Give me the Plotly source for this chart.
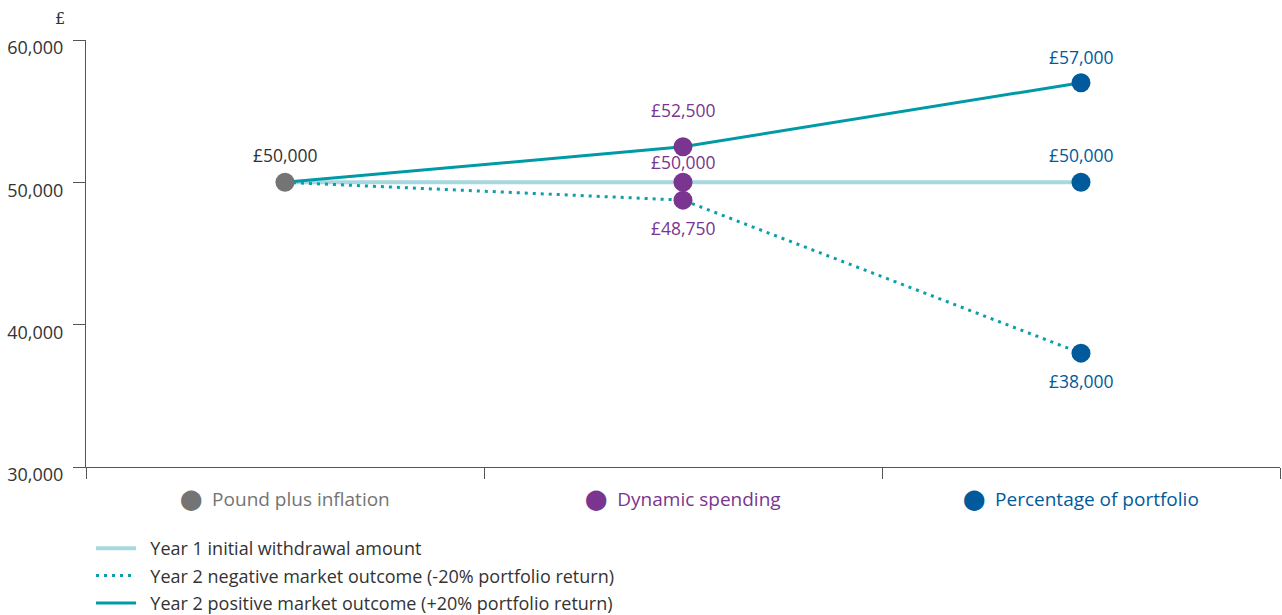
import plotly.graph_objects as go

# ---- data ----
categories = ["Pound plus inflation", "Dynamic spending", "Percentage of portfolio"]
year1_values = [50000, 50000, 50000]
negative_values = [50000, 48750, 38000]
positive_values = [50000, 52500, 57000]

point_categories = ["Pound plus inflation",
                    "Dynamic spending", "Dynamic spending", "Dynamic spending",
                    "Percentage of portfolio", "Percentage of portfolio", "Percentage of portfolio"]
point_values = [50000, 52500, 50000, 48750, 57000, 50000, 38000]
point_labels = ["£50,000", "£52,500", "£50,000", "£48,750", "£57,000", "£50,000", "£38,000"]

y_tickvals = [30000, 40000, 50000, 60000]
y_ticktext = ["30,000", "40,000", "50,000", "60,000"]

series_names = ["Year 1 initial withdrawal amount",
                "Year 2 negative market outcome (-20% portfolio return)",
                "Year 2 positive market outcome (+20% portfolio return)"]

# ---- styles ----
cat_colors = {"Pound plus inflation": "#747474",
              "Dynamic spending": "#7a3590",
              "Percentage of portfolio": "#005a9c"}
label_colors = {"Pound plus inflation": "#333333",
                "Dynamic spending": "#7a3590",
                "Percentage of portfolio": "#005a9c"}
label_shifts = [27, 37, 20, -28, 26, 27, -28]
FONT = "Open Sans, Roboto, sans-serif"
NBSP = "\u00a0\u00a0"

fig = go.Figure()

line_styles = [dict(color="#a6d8df", width=4),
               dict(color="#0a9fa9", width=3, dash="3px,5px"),
               dict(color="#009aa6", width=3)]
for i, (vals, name) in enumerate(zip([year1_values, negative_values, positive_values], series_names)):
    fig.add_trace(go.Scatter(x=categories, y=vals, mode="lines", name=NBSP + name,
                             legendgroup=f"g{i}", line=line_styles[i], hoverinfo="skip"))

fig.add_trace(go.Scatter(x=point_categories, y=point_values, mode="markers", showlegend=False,
                         marker=dict(size=19, color=[cat_colors[c] for c in point_categories],
                                     line=dict(width=0)),
                         cliponaxis=False, hoverinfo="skip"))

for c, v, t, s in zip(point_categories, point_values, point_labels, label_shifts):
    fig.add_annotation(x=c, y=v, text=t, showarrow=False, yshift=s,
                       font=dict(family=FONT, size=17.5, color=label_colors[c]))

fig.add_annotation(xref="paper", yref="paper", x=0, y=1.0, xshift=-19, yshift=33, text="£",
                   showarrow=False, xanchor="right",
                   font=dict(family="DejaVu Serif, serif", size=16, color="#333333"))

ticktext = [f'<span style="color:{cat_colors[c]}"><span style="font-size:20px">⬤</span>\u00a0 {c}</span>'
            for c in categories]

fig.update_layout(
    width=1282, height=615,
    margin=dict(l=86, r=2, t=40, b=148, autoexpand=False),
    paper_bgcolor="white", plot_bgcolor="white",
    showlegend=True,
    legend=dict(xref="container", yref="container", x=0.071, y=1 - 530 / 615,
                xanchor="left", yanchor="top", orientation="v",
                font=dict(family=FONT, size=18, color="#333333"),
                itemwidth=40, tracegroupgap=1, bgcolor="rgba(0,0,0,0)"),
    xaxis=dict(type="category", range=[-0.5, 2.5], tickmode="array",
               tickvals=categories, ticktext=ticktext, tickson="boundaries",
               ticks="outside", ticklen=11, tickcolor="#555555", tickwidth=1,
               showline=True, linecolor="#555555", linewidth=1, showgrid=False,
               zeroline=False, ticklabelstandoff=15,
               tickfont=dict(family=FONT, size=19)),
    yaxis=dict(range=[30000, 60000], tickmode="array", tickvals=y_tickvals,
               ticktext=y_ticktext, ticks="outside", ticklen=12, tickcolor="#555555",
               showline=True, linecolor="#555555", linewidth=1, showgrid=False,
               zeroline=False, ticklabelshift=8, ticklabelstandoff=6,
               tickfont=dict(family=FONT, size=18, color="#333333")),
)

fig.write_html("out.html")
